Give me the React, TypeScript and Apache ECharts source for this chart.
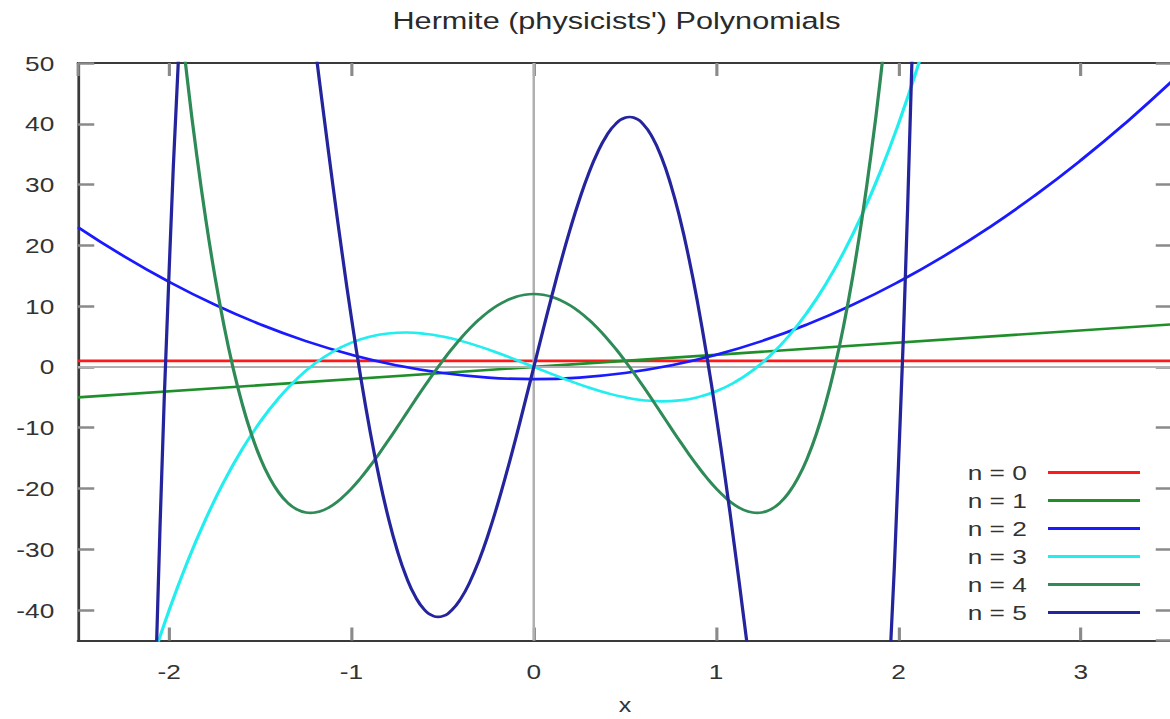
import React, { useEffect, useRef } from "react";
import * as echarts from "echarts";

// The reference picture is horizontally stretched; we draw at a narrower
// width and stretch the whole chart with CSS so text and lines match.
const STRETCH = 1.25;
const W = 1170 / STRETCH;
const H = 719;

const TITLE = "Hermite (physicists') Polynomials";
const X_NAME = "x";
const SERIES_NAMES = ["n = 0", "n = 1", "n = 2", "n = 3", "n = 4", "n = 5"];
const COLORS = ["#ff1a1a", "#1f8f2a", "#1a1aff", "#22eef0", "#2e8b57", "#24249c"];

const X_MIN = -2.5;
const X_MAX = 3.5;
const Y_MIN = -45;
const Y_MAX = 50;

const h0: number[][] = [[-2.5, 1], [3.5, 1]];
const h1: number[][] = [[-2.5, -5], [3.5, 7]];
const h2: number[][] = [
  [-2.5, 23], [-2.25, 18.25], [-2, 14], [-1.75, 10.25], [-1.5, 7], [-1.25, 4.25],
  [-1, 2], [-0.75, 0.25], [-0.5, -1], [-0.25, -1.75], [0, -2], [0.25, -1.75],
  [0.5, -1], [0.75, 0.25], [1, 2], [1.25, 4.25], [1.5, 7], [1.75, 10.25],
  [2, 14], [2.25, 18.25], [2.5, 23], [2.75, 28.25], [3, 34], [3.25, 40.25], [3.5, 47],
];
const h3: number[][] = [
  [-2.2, -58.78], [-2.1, -48.89], [-2.0, -40], [-1.9, -32.07], [-1.8, -25.06],
  [-1.7, -18.9], [-1.6, -13.57], [-1.5, -9], [-1.4, -5.15], [-1.3, -1.98],
  [-1.2, 0.58], [-1.1, 2.55], [-1.0, 4], [-0.9, 4.97], [-0.8, 5.5], [-0.7, 5.66],
  [-0.6, 5.47], [-0.5, 5], [-0.4, 4.29], [-0.3, 3.38], [-0.2, 2.34], [-0.1, 1.19],
  [0, 0], [0.1, -1.19], [0.2, -2.34], [0.3, -3.38], [0.4, -4.29], [0.5, -5],
  [0.6, -5.47], [0.7, -5.66], [0.8, -5.5], [0.9, -4.97], [1.0, -4], [1.1, -2.55],
  [1.2, -0.58], [1.3, 1.98], [1.4, 5.15], [1.5, 9], [1.6, 13.57], [1.7, 18.9],
  [1.8, 25.06], [1.9, 32.07], [2.0, 40], [2.1, 48.89], [2.2, 58.78],
];
const h4: number[][] = [
  [-2.0, 76], [-1.95, 60.82], [-1.9, 47.23], [-1.85, 35.14], [-1.8, 24.44],
  [-1.75, 15.06], [-1.7, 6.91], [-1.65, -0.09], [-1.6, -6.02], [-1.55, -10.97],
  [-1.5, -15], [-1.45, -18.19], [-1.4, -20.61], [-1.35, -22.34], [-1.3, -23.42],
  [-1.25, -23.94], [-1.225, -24.0], [-1.2, -23.94], [-1.15, -23.5], [-1.1, -22.65],
  [-1.05, -21.47], [-1.0, -20], [-0.95, -18.29], [-0.9, -16.38], [-0.85, -14.33],
  [-0.8, -12.17], [-0.75, -9.94], [-0.7, -7.68], [-0.65, -5.42], [-0.6, -3.21],
  [-0.55, -1.06], [-0.5, 1], [-0.45, 2.94], [-0.4, 4.73], [-0.35, 6.36],
  [-0.3, 7.81], [-0.25, 9.06], [-0.2, 10.11], [-0.15, 10.93], [-0.1, 11.52],
  [-0.05, 11.88], [0, 12], [0.05, 11.88], [0.1, 11.52], [0.15, 10.93],
  [0.2, 10.11], [0.25, 9.06], [0.3, 7.81], [0.35, 6.36], [0.4, 4.73],
  [0.45, 2.94], [0.5, 1], [0.55, -1.06], [0.6, -3.21], [0.65, -5.42],
  [0.7, -7.68], [0.75, -9.94], [0.8, -12.17], [0.85, -14.33], [0.9, -16.38],
  [0.95, -18.29], [1.0, -20], [1.05, -21.47], [1.1, -22.65], [1.15, -23.5],
  [1.2, -23.94], [1.225, -24.0], [1.25, -23.94], [1.3, -23.42], [1.35, -22.34],
  [1.4, -20.61], [1.45, -18.19], [1.5, -15], [1.55, -10.97], [1.6, -6.02],
  [1.65, -0.09], [1.7, 6.91], [1.75, 15.06], [1.8, 24.44], [1.85, 35.14],
  [1.9, 47.23], [1.95, 60.82], [2.0, 76],
];
const h5: number[][] = [
  [-2.1, -77.15], [-2.05, -26.14], [-2.0, 16], [-1.95, 50.13], [-1.9, 77.09],
  [-1.8, 112.46], [-1.7, 127.73], [-1.6, 127.82], [-1.5, 117], [-1.4, 98.94],
  [-1.3, 76.7], [-1.25, 64.84], [-1.2, 52.85], [-1.15, 40.98], [-1.1, 29.42],
  [-1.05, 18.38], [-1.0, 8], [-0.95, -1.58], [-0.9, -10.26], [-0.85, -17.94],
  [-0.8, -24.57], [-0.75, -30.09], [-0.7, -34.5], [-0.65, -37.77], [-0.6, -39.93],
  [-0.55, -40.99], [-0.525, -41.12], [-0.5, -41], [-0.45, -40.01], [-0.4, -38.09],
  [-0.35, -35.31], [-0.3, -31.76], [-0.25, -27.53], [-0.2, -22.73], [-0.15, -17.46],
  [-0.1, -11.84], [-0.05, -5.98], [0, 0], [0.05, 5.98], [0.1, 11.84], [0.15, 17.46],
  [0.2, 22.73], [0.25, 27.53], [0.3, 31.76], [0.35, 35.31], [0.4, 38.09],
  [0.45, 40.01], [0.5, 41], [0.525, 41.12], [0.55, 40.99], [0.6, 39.93],
  [0.65, 37.77], [0.7, 34.5], [0.75, 30.09], [0.8, 24.57], [0.85, 17.94],
  [0.9, 10.26], [0.95, 1.58], [1.0, -8], [1.05, -18.38], [1.1, -29.42],
  [1.15, -40.98], [1.2, -52.85], [1.25, -64.84], [1.3, -76.7], [1.4, -98.94],
  [1.5, -117], [1.6, -127.82], [1.7, -127.73], [1.8, -112.46], [1.9, -77.09],
  [1.95, -50.13], [2.0, -16], [2.05, 26.14], [2.1, 77.15],
];

const SERIES_DATA = [h0, h1, h2, h3, h4, h5];

export default function App() {
  const ref = useRef<HTMLDivElement>(null);

  useEffect(() => {
    if (!ref.current) return;
    const chart = echarts.init(ref.current, null, { renderer: "svg" });
    const font = "Liberation Sans";
    const tickStyle = { color: "#8a8a8a", width: 2.5 };
    const borderStyle = { color: "#3a3a3a", width: 2.2 };

    const grid = {
      left: 62.4,
      top: 63,
      width: 875.2,
      height: 577.5,
      containLabel: false,
      outerBoundsMode: "none",
    };

    const lineSeries = SERIES_DATA.map((d, i) => ({
      name: SERIES_NAMES[i],
      type: "line",
      data: d,
      symbol: "none",
      smooth: true,
      clip: true,
      z: 3 + i,
      lineStyle: { width: 2.6, color: COLORS[i] },
      itemStyle: { color: COLORS[i] },
    }));

    chart.setOption({
      animation: false,
      backgroundColor: "#ffffff",
      title: {
        text: TITLE,
        left: 314,
        top: 8,
        padding: 0,
        textStyle: { fontFamily: font, fontSize: 24.5, fontWeight: "normal", color: "#2a2a2a" },
      },
      legend: {
        data: SERIES_NAMES,
        orient: "vertical",
        align: "right",
        right: 24,
        top: 462,
        padding: 0,
        icon: "rect",
        itemWidth: 73.6,
        itemHeight: 3,
        itemGap: 7,
        selectedMode: false,
        textStyle: {
          fontFamily: font,
          fontSize: 21,
          color: "#333333",
          lineHeight: 21,
          padding: [0, 12, 0, 0],
        },
      },
      grid,
      xAxis: [
        {
          type: "value",
          position: "bottom",
          min: X_MIN,
          max: X_MAX,
          splitNumber: 6,
          name: X_NAME,
          nameLocation: "middle",
          nameGap: 65,
          nameTextStyle: {
            fontFamily: font,
            fontSize: 20,
            lineHeight: 14,
            verticalAlign: "middle",
            color: "#333333",
          },
          axisLine: { show: true, onZero: false, lineStyle: borderStyle },
          axisTick: { show: true, inside: true, length: 13, lineStyle: tickStyle },
          axisLabel: {
            show: true,
            margin: 20,
            showMinLabel: false,
            showMaxLabel: false,
            fontFamily: font,
            fontSize: 21,
            color: "#333333",
          },
          splitLine: { show: false },
        },
        {
          type: "value",
          position: "top",
          min: X_MIN,
          max: X_MAX,
          splitNumber: 6,
          axisLine: { show: true, onZero: false, lineStyle: borderStyle },
          axisTick: { show: true, inside: true, length: 13, lineStyle: tickStyle },
          axisLabel: { show: false },
          splitLine: { show: false },
        },
      ],
      yAxis: [
        {
          type: "value",
          position: "left",
          min: Y_MIN,
          max: Y_MAX,
          splitNumber: 9,
          axisLine: { show: true, onZero: false, lineStyle: borderStyle },
          axisTick: { show: true, inside: true, length: 13, lineStyle: tickStyle },
          axisLabel: {
            show: true,
            margin: 19,
            showMinLabel: false,
            fontFamily: font,
            fontSize: 21,
            color: "#333333",
          },
          splitLine: { show: false },
        },
        {
          type: "value",
          position: "right",
          min: Y_MIN,
          max: Y_MAX,
          splitNumber: 9,
          axisLine: { show: true, onZero: false, lineStyle: borderStyle },
          axisTick: { show: true, inside: true, length: 13, lineStyle: tickStyle },
          axisLabel: { show: false },
          splitLine: { show: false },
        },
      ],
      series: [
        {
          name: "__zero",
          type: "line",
          data: [],
          symbol: "none",
          z: 1,
          silent: true,
          markLine: {
            silent: true,
            animation: false,
            symbol: ["none", "none"],
            label: { show: false },
            lineStyle: { color: "#b0b0b0", width: 2, type: "solid" },
            data: [{ xAxis: 0 }, { yAxis: 0 }],
          },
        },
        ...lineSeries,
      ],
    });

    return () => chart.dispose();
  }, []);

  return (
    <div
      ref={ref}
      style={{
        position: "absolute",
        left: 0,
        top: 0,
        width: W,
        height: H,
        transform: `scaleX(${STRETCH})`,
        transformOrigin: "0 0",
      }}
    />
  );
}
